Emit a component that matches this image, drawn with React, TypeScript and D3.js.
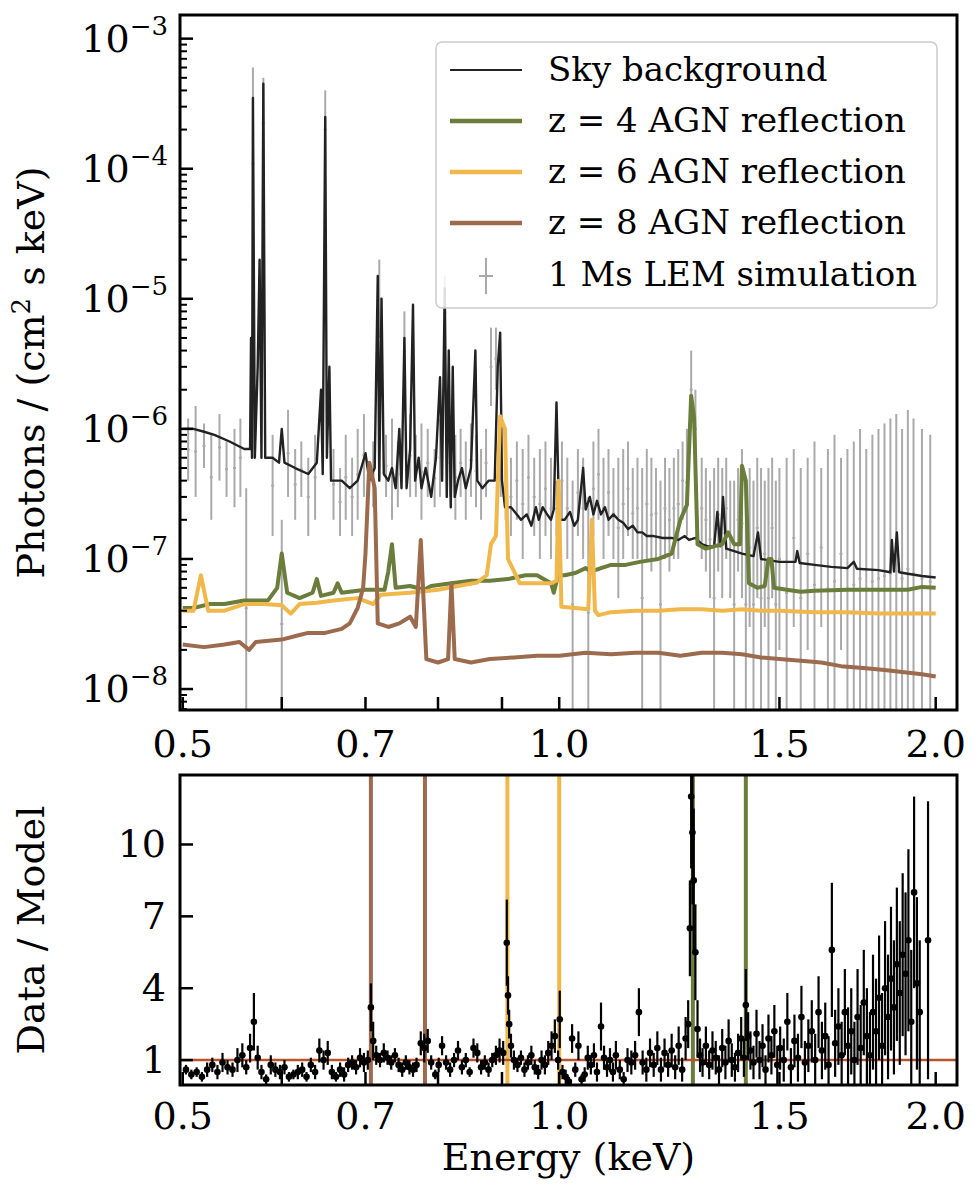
import React from 'react';
import * as d3 from 'd3';

// ---- data ----
const skyBackground: [number, number][] = [
  [0.500, 1.0e-6], [0.510, 1.0e-6], [0.520, 9.5e-7], [0.530, 9e-7], [0.545, 8e-7], [0.560, 7e-7],
  [0.566, 7e-7], [0.567, 5e-6], [0.568, 6e-7], [0.569, 3.5e-4], [0.571, 6e-7], [0.574, 3e-6],
  [0.576, 2e-5], [0.578, 6e-7], [0.580, 4.5e-4], [0.582, 6e-7], [0.590, 6e-7], [0.597, 5.5e-7],
  [0.600, 1.0e-6], [0.603, 5.5e-7], [0.615, 5e-7], [0.630, 4.5e-7], [0.640, 5.5e-7], [0.645, 2e-6],
  [0.647, 4.5e-7], [0.650, 2.5e-4], [0.652, 6e-7], [0.655, 3e-6], [0.657, 4e-7], [0.670, 4e-7],
  [0.680, 3.5e-7], [0.690, 4e-7], [0.700, 6.5e-7], [0.705, 4e-7], [0.712, 5e-7], [0.716, 1.5e-5],
  [0.718, 4e-7], [0.721, 1e-5], [0.724, 4.5e-7], [0.730, 4e-7], [0.735, 5e-7], [0.740, 3.5e-7],
  [0.745, 1e-6], [0.748, 3.5e-7], [0.752, 5e-6], [0.755, 3.5e-7], [0.760, 7e-7], [0.764, 9e-6],
  [0.767, 4e-7], [0.772, 6e-7], [0.776, 3.5e-7], [0.782, 5e-7], [0.790, 3e-7], [0.797, 6e-7],
  [0.803, 2.5e-6], [0.806, 4e-7], [0.810, 1.2e-5], [0.813, 3e-7], [0.816, 4e-6], [0.819, 2.5e-7],
  [0.822, 3e-6], [0.825, 3e-7], [0.830, 4e-7], [0.836, 5e-7], [0.842, 3.5e-7], [0.850, 5e-7],
  [0.857, 4e-6], [0.860, 4e-7], [0.868, 3.5e-7], [0.878, 4e-7], [0.888, 4e-7], [0.893, 3e-6],
  [0.897, 5.5e-6], [0.900, 4e-7], [0.905, 2.5e-7], [0.915, 2.5e-7], [0.925, 2.2e-7], [0.932, 2e-7],
  [0.942, 2.2e-7], [0.950, 1.8e-7], [0.958, 2.5e-7], [0.963, 2e-7], [0.970, 2.5e-7], [0.978, 2.2e-7],
  [0.985, 2e-7], [0.990, 2.4e-7], [0.995, 1.6e-6], [1.000, 2e-7], [1.010, 2e-7], [1.020, 2.3e-7],
  [1.028, 1.8e-7], [1.035, 2e-7], [1.045, 5e-7], [1.050, 2.4e-7], [1.058, 3e-7], [1.065, 2.2e-7],
  [1.072, 2.8e-7], [1.080, 2.2e-7], [1.088, 2.5e-7], [1.095, 2e-7], [1.105, 2.2e-7], [1.115, 2e-7],
  [1.125, 1.9e-7], [1.135, 1.7e-7], [1.145, 1.8e-7], [1.155, 1.6e-7], [1.165, 1.6e-7], [1.175, 1.5e-7],
  [1.190, 1.5e-7], [1.210, 1.45e-7], [1.230, 1.45e-7], [1.245, 1.4e-7], [1.260, 1.5e-7], [1.270, 1.4e-7],
  [1.285, 1.45e-7], [1.300, 1.3e-7], [1.315, 1.25e-7], [1.330, 1.25e-7], [1.338, 2.3e-7], [1.345, 1.25e-7],
  [1.352, 3e-7], [1.360, 1.2e-7], [1.380, 1.15e-7], [1.400, 1.1e-7], [1.430, 1.05e-7], [1.442, 1.6e-7],
  [1.450, 1.0e-7], [1.500, 9.5e-8], [1.545, 9.5e-8], [1.550, 1.15e-7], [1.557, 9.3e-8], [1.600, 9e-8],
  [1.650, 8.7e-8], [1.700, 8.5e-8], [1.720, 9.5e-8], [1.730, 8.4e-8], [1.800, 8.2e-8], [1.840, 7.9e-8],
  [1.845, 1.4e-7], [1.852, 8e-8], [1.862, 1.6e-7], [1.870, 7.9e-8], [1.900, 7.7e-8], [1.950, 7.4e-8],
  [2.000, 7.2e-8],
];

const agnZ4: [number, number][] = [
  [0.500, 4.2e-8], [0.510, 4.2e-8], [0.525, 4.5e-8], [0.540, 4.5e-8], [0.560, 4.8e-8], [0.585, 4.8e-8],
  [0.595, 6e-8], [0.600, 1.1e-7], [0.606, 5.5e-8], [0.620, 5e-8], [0.635, 5.5e-8], [0.640, 7e-8],
  [0.645, 5.2e-8], [0.660, 5.5e-8], [0.665, 6.5e-8], [0.670, 5.5e-8], [0.700, 5.8e-8], [0.725, 5.8e-8],
  [0.730, 8e-8], [0.735, 1.3e-7], [0.740, 6e-8], [0.760, 6.2e-8], [0.780, 5.8e-8], [0.790, 6.2e-8],
  [0.820, 6.5e-8], [0.850, 6.8e-8], [0.880, 6.8e-8], [0.910, 7e-8], [0.940, 7.5e-8], [0.960, 7.5e-8],
  [0.985, 6.5e-8], [0.990, 5.5e-8], [0.998, 7.5e-8], [1.010, 7.5e-8], [1.030, 7.8e-8], [1.050, 8.5e-8],
  [1.060, 8e-8], [1.080, 8.5e-8], [1.100, 9e-8], [1.130, 9e-8], [1.160, 9.5e-8], [1.200, 1.0e-7],
  [1.230, 1.1e-7], [1.250, 2e-7], [1.265, 2.6e-7], [1.275, 1.8e-6], [1.282, 1.2e-6], [1.290, 1.3e-7],
  [1.310, 1.2e-7], [1.330, 1.25e-7], [1.350, 1.3e-7], [1.365, 1.6e-7], [1.380, 1.3e-7], [1.395, 1.3e-7],
  [1.400, 5.2e-7], [1.410, 4e-7], [1.418, 6.5e-8], [1.440, 6e-8], [1.460, 6.2e-8], [1.470, 1.0e-7],
  [1.478, 1.0e-7], [1.485, 6e-8], [1.520, 5.8e-8], [1.560, 5.6e-8], [1.600, 5.7e-8], [1.700, 5.8e-8],
  [1.800, 5.8e-8], [1.900, 5.8e-8], [1.950, 6.1e-8], [2.000, 6e-8],
];

const agnZ6: [number, number][] = [
  [0.500, 4e-8], [0.510, 4e-8], [0.517, 7.5e-8], [0.524, 4e-8], [0.540, 4e-8], [0.560, 4.5e-8],
  [0.580, 4.5e-8], [0.600, 4.4e-8], [0.610, 3.8e-8], [0.620, 4.5e-8], [0.640, 4.6e-8], [0.660, 4.8e-8],
  [0.690, 5e-8], [0.710, 4.5e-8], [0.720, 5.3e-8], [0.760, 5.5e-8], [0.800, 5.8e-8], [0.830, 6.2e-8],
  [0.860, 6.6e-8], [0.875, 7.5e-8], [0.882, 1.3e-7], [0.890, 1.5e-7], [0.897, 1.25e-6], [0.905, 1.0e-6],
  [0.910, 1.0e-7], [0.930, 6.5e-8], [0.960, 6.5e-8], [0.985, 6.5e-8], [0.995, 6.8e-8], [0.999, 4e-7],
  [1.004, 4.3e-8], [1.030, 4.2e-8], [1.055, 4.1e-8], [1.062, 2.0e-7], [1.068, 4e-8], [1.075, 3.7e-8],
  [1.100, 3.9e-8], [1.150, 4e-8], [1.200, 4e-8], [1.250, 4.1e-8], [1.300, 4.1e-8], [1.350, 4e-8],
  [1.400, 4.1e-8], [1.450, 4e-8], [1.500, 4e-8], [1.600, 3.9e-8], [1.700, 3.9e-8], [1.800, 3.8e-8],
  [1.900, 3.8e-8], [2.000, 3.8e-8],
];

const agnZ8: [number, number][] = [
  [0.500, 2.2e-8], [0.520, 2.1e-8], [0.540, 2.2e-8], [0.555, 2.3e-8], [0.565, 2.0e-8], [0.572, 2.3e-8],
  [0.600, 2.4e-8], [0.620, 2.6e-8], [0.630, 2.7e-8], [0.650, 2.7e-8], [0.670, 2.9e-8], [0.680, 3.2e-8],
  [0.690, 4.2e-8], [0.697, 6e-8], [0.700, 1.1e-7], [0.705, 5.5e-7], [0.712, 3.5e-7], [0.716, 3.2e-8],
  [0.730, 3.0e-8], [0.745, 3.2e-8], [0.760, 3.6e-8], [0.768, 3.0e-8], [0.775, 1.4e-7], [0.783, 1.7e-8],
  [0.800, 1.6e-8], [0.815, 1.7e-8], [0.820, 6.5e-8], [0.825, 1.7e-8], [0.850, 1.6e-8], [0.880, 1.7e-8],
  [0.920, 1.75e-8], [0.960, 1.8e-8], [1.000, 1.8e-8], [1.050, 1.9e-8], [1.100, 1.85e-8], [1.150, 1.9e-8],
  [1.200, 1.9e-8], [1.250, 1.8e-8], [1.300, 1.9e-8], [1.350, 1.9e-8], [1.400, 1.85e-8], [1.450, 1.75e-8],
  [1.500, 1.7e-8], [1.560, 1.65e-8], [1.620, 1.6e-8], [1.680, 1.5e-8], [1.750, 1.45e-8], [1.820, 1.4e-8],
  [1.880, 1.35e-8], [1.950, 1.3e-8], [2.000, 1.25e-8],
];

// LEM simulation error bars: [energy, low, high]
const lemSim: [number, number, number][] = [
  [0.505, 4e-7, 1.2e-6], [0.512, 3e-7, 1.5e-6], [0.520, 5e-7, 1.1e-6], [0.527, 2e-7, 9e-7], [0.535, 4e-7, 1.3e-6],
  [0.542, 3e-7, 8e-7], [0.550, 2.5e-7, 1e-6], [0.556, 3e-7, 1.2e-6], [0.562, 5e-9, 3.5e-7], [0.569, 2e-5, 6e-4],
  [0.580, 1e-4, 5e-4], [0.590, 1.5e-7, 9e-7], [0.600, 5e-9, 2e-7], [0.607, 3e-7, 1.4e-6], [0.615, 2e-7, 7e-7],
  [0.622, 3e-7, 8e-7], [0.630, 1.5e-7, 6e-7], [0.638, 2e-7, 9e-7], [0.650, 1e-4, 4e-4], [0.660, 2e-7, 7e-7],
  [0.668, 1.5e-7, 5e-7], [0.675, 2e-7, 9e-7], [0.683, 1.5e-7, 6e-7], [0.690, 2e-7, 1e-6], [0.698, 3e-7, 1.3e-6],
  [0.710, 2.5e-7, 8e-7], [0.718, 5e-6, 2e-5], [0.727, 3e-7, 9e-7], [0.735, 2e-7, 1.2e-6], [0.743, 2.5e-7, 8e-7],
  [0.752, 2e-6, 8e-6], [0.760, 3e-7, 1.3e-6], [0.768, 3e-7, 9e-7], [0.776, 2e-7, 1.1e-6], [0.785, 3e-7, 1e-6],
  [0.795, 2.5e-7, 7e-7], [0.803, 3e-7, 1.2e-6], [0.810, 4e-6, 1.5e-5], [0.818, 3e-7, 1e-6], [0.826, 2e-7, 9e-7],
  [0.834, 3e-7, 1e-6], [0.842, 2e-7, 8e-7], [0.850, 3e-7, 1.1e-6], [0.858, 2.5e-7, 9e-7], [0.866, 2e-7, 7e-7],
  [0.874, 3e-7, 1e-6], [0.882, 1.5e-6, 6e-6], [0.890, 2e-6, 6e-6], [0.898, 3e-7, 1e-6], [0.906, 2e-7, 8e-7],
  [0.915, 1.5e-7, 6e-7], [0.925, 2e-7, 8e-7], [0.935, 1e-7, 7e-7], [0.945, 2e-7, 9e-7], [0.955, 1.5e-7, 6e-7],
  [0.965, 1e-7, 7e-7], [0.975, 1.5e-7, 8e-7], [0.985, 1e-7, 6e-7], [0.995, 1.5e-7, 4e-7], [1.005, 2e-7, 8e-7],
  [1.015, 1e-7, 6e-7], [1.025, 5e-9, 4e-7], [1.035, 1.5e-7, 7e-7], [1.045, 1e-7, 6e-7], [1.055, 5e-9, 3e-7],
  [1.065, 1.5e-7, 8e-7], [1.075, 2e-7, 1e-6], [1.085, 1e-7, 6e-7], [1.095, 1.5e-7, 7e-7], [1.105, 1e-7, 5e-7],
  [1.115, 5e-8, 6e-7], [1.125, 1e-7, 7e-7], [1.135, 1.5e-7, 8e-7], [1.145, 1e-7, 5e-7], [1.155, 1e-7, 6e-7],
  [1.165, 5e-9, 5e-7], [1.175, 1e-7, 7e-7], [1.185, 8e-8, 6e-7], [1.195, 1e-7, 5e-7], [1.205, 5e-9, 4e-7],
  [1.215, 1e-7, 6e-7], [1.225, 8e-8, 5e-7], [1.235, 1e-7, 6e-7], [1.245, 1e-7, 7e-7], [1.255, 2e-7, 8e-7],
  [1.265, 1.5e-7, 1e-6], [1.275, 1e-6, 4e-6], [1.285, 5e-7, 2e-6], [1.300, 1e-7, 6e-7], [1.310, 8e-8, 5e-7],
  [1.320, 5e-8, 4e-7], [1.330, 5e-9, 5e-7], [1.340, 8e-8, 6e-7], [1.350, 5e-8, 5e-7], [1.360, 1e-7, 6e-7],
  [1.370, 5e-8, 4e-7], [1.380, 5e-9, 4e-7], [1.390, 8e-8, 5e-7], [1.400, 5e-8, 7e-7], [1.410, 5e-9, 4e-7],
  [1.420, 3e-8, 5e-7], [1.430, 5e-9, 4e-7], [1.440, 5e-8, 6e-7], [1.450, 5e-9, 5e-7], [1.460, 3e-8, 4e-7],
  [1.470, 5e-9, 5e-7], [1.480, 5e-8, 6e-7], [1.490, 5e-9, 4e-7], [1.500, 2e-8, 5e-7], [1.520, 5e-9, 6e-7],
  [1.540, 3e-8, 7e-7], [1.560, 5e-9, 5e-7], [1.580, 2e-8, 6e-7], [1.600, 5e-9, 8e-7], [1.620, 3e-8, 5e-7],
  [1.640, 5e-9, 7e-7], [1.660, 5e-9, 9e-7], [1.680, 2e-8, 6e-7], [1.700, 5e-9, 7e-7], [1.720, 5e-9, 8e-7],
  [1.740, 5e-9, 1e-6], [1.760, 5e-9, 7e-7], [1.780, 5e-9, 9e-7], [1.800, 5e-9, 1e-6], [1.820, 5e-9, 1.1e-6],
  [1.840, 5e-9, 1.2e-6], [1.860, 5e-9, 1.3e-6], [1.880, 5e-9, 1e-6], [1.900, 5e-9, 1.4e-6], [1.920, 5e-9, 1.2e-6],
  [1.950, 5e-9, 1e-6], [1.980, 5e-9, 9e-7],
];

// Data/Model ratio: [energy, value, error]
const ratio: [number, number, number][] = [
  [0.503, 0.6, 0.2], [0.508, 0.4, 0.2], [0.513, 0.5, 0.2], [0.518, 0.3, 0.2], [0.523, 0.6, 0.3], [0.528, 0.8, 0.3],
  [0.533, 0.5, 0.3], [0.538, 0.9, 0.4], [0.543, 0.7, 0.3], [0.548, 0.6, 0.3], [0.553, 1.0, 0.5], [0.558, 1.2, 0.5],
  [0.562, 0.7, 0.3], [0.566, 1.5, 0.6], [0.570, 2.6, 1.2], [0.574, 1.1, 0.5], [0.578, 0.5, 0.3], [0.583, 0.2, 0.2],
  [0.588, 0.8, 0.4], [0.593, 0.6, 0.3], [0.598, 0.5, 0.3], [0.603, 0.7, 0.3], [0.608, 0.3, 0.2], [0.613, 0.4, 0.2],
  [0.618, 0.5, 0.3], [0.623, 0.6, 0.3], [0.628, 0.3, 0.2], [0.633, 0.8, 0.3], [0.638, 0.5, 0.3], [0.643, 1.4, 0.5],
  [0.648, 1.0, 0.4], [0.653, 1.3, 0.5], [0.658, 0.5, 0.3], [0.663, 0.3, 0.2], [0.668, 0.6, 0.3], [0.673, 0.4, 0.3],
  [0.678, 0.8, 0.3], [0.683, 0.9, 0.3], [0.688, 0.7, 0.3], [0.693, 1.1, 0.4], [0.698, 0.9, 0.4], [0.703, 1.0, 0.4],
  [0.707, 3.2, 1.0], [0.710, 1.8, 0.8], [0.714, 1.2, 0.4], [0.719, 1.0, 0.3], [0.724, 1.3, 0.4], [0.729, 1.1, 0.3],
  [0.734, 0.9, 0.3], [0.739, 1.2, 0.3], [0.744, 0.8, 0.3], [0.749, 0.6, 0.3], [0.754, 0.9, 0.3], [0.759, 0.7, 0.3],
  [0.764, 0.6, 0.3], [0.769, 0.8, 0.3], [0.775, 1.7, 0.5], [0.780, 1.5, 0.6], [0.785, 1.8, 0.5], [0.790, 0.9, 0.3],
  [0.796, 0.4, 0.2], [0.801, 0.8, 0.3], [0.806, 1.6, 0.4], [0.812, 0.9, 0.3], [0.818, 0.6, 0.3], [0.824, 1.0, 0.3],
  [0.830, 1.4, 0.4], [0.836, 0.7, 0.3], [0.842, 1.0, 0.3], [0.848, 0.5, 0.2], [0.854, 1.5, 0.4], [0.860, 1.3, 0.4],
  [0.866, 0.7, 0.3], [0.872, 0.9, 0.3], [0.878, 0.6, 0.3], [0.884, 1.0, 0.3], [0.890, 1.2, 0.4], [0.896, 1.4, 0.5],
  [0.902, 1.3, 0.5], [0.908, 5.9, 1.8], [0.910, 3.7, 0.8], [0.912, 2.5, 0.6], [0.915, 1.6, 0.5], [0.920, 1.0, 0.4],
  [0.926, 0.8, 0.3], [0.932, 1.1, 0.3], [0.938, 0.6, 0.3], [0.944, 0.9, 0.3], [0.950, 1.2, 0.4], [0.956, 0.7, 0.3],
  [0.962, 0.5, 0.3], [0.968, 1.0, 0.4], [0.974, 0.8, 0.4], [0.980, 1.3, 0.5], [0.986, 1.6, 0.6], [0.992, 2.0, 0.7],
  [0.998, 1.0, 0.4], [1.001, 2.7, 1.2], [1.006, 0.5, 0.3], [1.012, 0.3, 0.3], [1.018, 0.1, 0.2], [1.024, 1.9, 0.6],
  [1.030, 0.6, 0.3], [1.036, 1.6, 0.6], [1.042, 0.2, 0.2], [1.048, 0.4, 0.3], [1.054, 1.1, 0.5], [1.060, 0.8, 0.4],
  [1.066, 1.2, 0.5], [1.072, 0.5, 0.4], [1.080, 2.4, 1.0], [1.086, 1.1, 0.5], [1.092, 0.7, 0.4], [1.098, 1.0, 0.5],
  [1.104, 0.5, 0.4], [1.110, 1.2, 0.6], [1.118, 0.6, 0.4], [1.126, 0.2, 0.3], [1.134, 1.0, 0.5], [1.142, 0.9, 0.5],
  [1.150, 1.2, 0.6], [1.158, 3.0, 1.0], [1.166, 0.9, 0.5], [1.174, 0.6, 0.5], [1.182, 1.3, 0.6], [1.190, 0.8, 0.5],
  [1.198, 1.5, 0.7], [1.206, 0.6, 0.5], [1.214, 1.3, 0.6], [1.222, 0.8, 0.5], [1.230, 1.4, 0.7], [1.238, 0.7, 0.5],
  [1.246, 1.6, 0.8], [1.254, 0.6, 0.5], [1.262, 1.9, 0.9], [1.268, 2.5, 1.0], [1.272, 6.5, 2.0], [1.275, 12.0, 3.0],
  [1.278, 10.5, 3.0], [1.281, 8.5, 3.0], [1.285, 5.5, 2.0], [1.290, 2.3, 1.2], [1.296, 1.2, 0.7], [1.302, 0.9, 0.6],
  [1.310, 1.6, 0.8], [1.318, 0.8, 0.6], [1.326, 1.4, 0.8], [1.334, 1.1, 0.7], [1.342, 0.6, 0.6], [1.350, 1.5, 0.8],
  [1.358, 0.9, 0.7], [1.366, 1.8, 0.9], [1.374, 1.0, 0.7], [1.382, 0.7, 0.6], [1.390, 1.3, 0.8], [1.398, 1.9, 0.9],
  [1.405, 1.1, 0.8], [1.410, 3.3, 1.5], [1.416, 2.0, 1.0], [1.422, 1.4, 0.8], [1.430, 0.9, 0.7], [1.438, 2.1, 1.0],
  [1.446, 1.0, 0.8], [1.454, 1.6, 0.9], [1.462, 0.6, 0.6], [1.470, 1.9, 1.0], [1.478, 1.2, 0.8], [1.486, 2.2, 1.1],
  [1.494, 0.8, 0.8], [1.502, 1.5, 0.9], [1.512, 1.0, 0.9], [1.522, 2.6, 1.2], [1.532, 0.7, 0.8], [1.542, 1.8, 1.1],
  [1.552, 1.1, 1.0], [1.562, 2.8, 1.3], [1.572, 0.9, 0.9], [1.582, 1.6, 1.1], [1.592, 2.2, 1.3], [1.602, 1.0, 1.1],
  [1.612, 3.0, 1.5], [1.622, 1.4, 1.2], [1.632, 2.0, 1.4], [1.642, 0.8, 1.2], [1.652, 5.6, 2.8], [1.662, 1.7, 1.4],
  [1.672, 2.4, 1.6], [1.682, 1.2, 1.4], [1.692, 3.0, 1.8], [1.702, 1.6, 1.6], [1.712, 2.2, 1.8], [1.722, 1.0, 1.6],
  [1.732, 2.8, 2.0], [1.742, 1.5, 1.8], [1.752, 3.4, 2.2], [1.762, 2.0, 2.0], [1.772, 1.2, 1.8], [1.782, 3.0, 2.4],
  [1.792, 2.2, 2.2], [1.802, 3.6, 2.6], [1.812, 1.6, 2.2], [1.822, 4.0, 2.8], [1.832, 2.8, 2.6], [1.842, 4.4, 3.0],
  [1.852, 3.2, 2.8], [1.862, 5.0, 3.2], [1.872, 3.8, 3.0], [1.882, 5.4, 3.4], [1.892, 4.6, 3.4], [1.902, 6.0, 3.8],
  [1.912, 2.6, 3.0], [1.922, 8.0, 4.0], [1.932, 4.2, 3.6], [1.942, 3.0, 3.0], [1.972, 6.0, 5.8],
];

const ratioLines: [number, string][] = [
  [0.707, '#9c6b4e'], [0.781, '#9c6b4e'], [0.909, '#f0b84a'], [1.0, '#f0b84a'], [1.279, '#6b7d3a'], [1.41, '#6b7d3a'],
];

const xTicks = [0.5, 0.6, 0.7, 0.8, 0.9, 1.0, 1.5, 2.0];
const xLabels = [0.5, 0.7, 1.0, 1.5, 2.0];
const yTicksTop = [-8, -7, -6, -5, -4, -3];
const yTicksBottom = [1, 4, 7, 10];

const legendItems = [
  { label: 'Sky background', color: '#222', width: 2 },
  { label: 'z = 4 AGN reflection', color: '#6b7d3a', width: 4.5 },
  { label: 'z = 6 AGN reflection', color: '#f0b84a', width: 4.5 },
  { label: 'z = 8 AGN reflection', color: '#9c6b4e', width: 4.5 },
];

const FONT = '"DejaVu Serif", serif';
const TICK_FS = 38;
const LABEL_FS = 38;
const LEG_FS = 34;

export default function App() {
  const L = 180, R = 957;
  const topT = 15, topB = 710;
  const botT = 775, botB = 1085;

  const x = d3.scaleLog().domain([0.4975, 2.08]).range([L, R]);
  const yTop = d3.scaleLog().domain([6.9e-9, 1.52e-3]).range([topB, topT]);
  const yBot = d3.scaleLinear().domain([-0.04, 12.9]).range([botB, botT]);

  const lineTop = d3.line<[number, number]>().x(d => x(d[0])).y(d => yTop(d[1]));

  const minorY: number[] = [];
  for (let e = -9; e <= -4; e++) for (let m = 2; m <= 9; m++) {
    const v = m * Math.pow(10, e);
    if (v > 6.9e-9 && v < 1.52e-3) minorY.push(v);
  }

  return (
    <div style={{ position: 'absolute', left: 0, top: 0 }}>
      <svg width={980} height={1200} style={{ display: 'block', background: '#fff' }} fontFamily={FONT}>
        <defs>
          <clipPath id="clipTop"><rect x={L} y={topT} width={R - L} height={topB - topT} /></clipPath>
          <clipPath id="clipBot"><rect x={L} y={botT} width={R - L} height={botB - botT} /></clipPath>
        </defs>

        {/* top panel */}
        <g clipPath="url(#clipTop)">
          {lemSim.map((d, i) => (
            <g key={i} stroke="#aaa" strokeWidth={2}>
              <line x1={x(d[0])} x2={x(d[0])} y1={yTop(d[1])} y2={yTop(d[2])} />
              <line x1={x(d[0]) - 1.5} x2={x(d[0]) + 1.5} y1={yTop(Math.sqrt(d[1] * d[2]))} y2={yTop(Math.sqrt(d[1] * d[2]))} />
            </g>
          ))}
          <path d={lineTop(skyBackground) || ''} fill="none" stroke="#222" strokeWidth={2.4} strokeLinejoin="round" />
          <path d={lineTop(agnZ4) || ''} fill="none" stroke="#6b7d3a" strokeWidth={4} strokeLinejoin="round" />
          <path d={lineTop(agnZ6) || ''} fill="none" stroke="#f0b84a" strokeWidth={4} strokeLinejoin="round" />
          <path d={lineTop(agnZ8) || ''} fill="none" stroke="#9c6b4e" strokeWidth={4} strokeLinejoin="round" />
        </g>
        <rect x={L} y={topT} width={R - L} height={topB - topT} fill="none" stroke="#000" strokeWidth={3} />
        {minorY.map(v => (
          <line key={v} x1={L} x2={L + 7} y1={yTop(v)} y2={yTop(v)} stroke="#000" strokeWidth={2} />
        ))}
        {yTicksTop.map(e => (
          <g key={e}>
            <line x1={L} x2={L + 13} y1={yTop(Math.pow(10, e))} y2={yTop(Math.pow(10, e))} stroke="#000" strokeWidth={2.5} />
            <text x={L - 12} y={yTop(Math.pow(10, e)) + 13} textAnchor="end" fontSize={TICK_FS}>
              10<tspan dy={-17} fontSize={26}>{'\u2212' + Math.abs(e)}</tspan>
            </text>
          </g>
        ))}
        {xTicks.map(t => (
          <line key={t} x1={x(t)} x2={x(t)} y1={topB} y2={topB - 13} stroke="#000" strokeWidth={2.5} />
        ))}
        {xLabels.map(t => (
          <text key={t} x={x(t)} y={topB + 47} textAnchor="middle" fontSize={TICK_FS}>{t.toFixed(1)}</text>
        ))}
        <text transform={`translate(44,${(topT + topB) / 2 + 10}) rotate(-90)`} textAnchor="middle" fontSize={LABEL_FS}>
          Photons / (cm<tspan dy={-14} fontSize={26}>2</tspan><tspan dy={14}> s keV)</tspan>
        </text>

        {/* legend */}
        <rect x={436} y={42} width={501} height={266} rx={6} fill="#fff" fillOpacity={0.85} stroke="#ccc" strokeWidth={1.5} />
        {legendItems.map((it, i) => (
          <g key={it.label}>
            <line x1={450} x2={522} y1={70 + i * 51} y2={70 + i * 51} stroke={it.color} strokeWidth={it.width} />
            <text x={548} y={81 + i * 51} fontSize={LEG_FS}>{it.label}</text>
          </g>
        ))}
        <line x1={486} x2={486} y1={258} y2={294} stroke="#aaa" strokeWidth={2} />
        <line x1={479} x2={493} y1={276} y2={276} stroke="#aaa" strokeWidth={2} />
        <text x={548} y={286} fontSize={LEG_FS}>1 Ms LEM simulation</text>

        {/* bottom panel */}
        <g clipPath="url(#clipBot)">
          {ratioLines.map(([e, c], i) => (
            <line key={i} x1={x(e)} x2={x(e)} y1={botT} y2={botB} stroke={c} strokeWidth={4} />
          ))}
          <line x1={L} x2={R} y1={yBot(1)} y2={yBot(1)} stroke="#b8542c" strokeWidth={2.5} />
          {ratio.map((d, i) => (
            <g key={i}>
              <line x1={x(d[0])} x2={x(d[0])} y1={yBot(d[1] - d[2])} y2={yBot(d[1] + d[2])} stroke="#000" strokeWidth={2.2} />
              <circle cx={x(d[0])} cy={yBot(d[1])} r={3.3} fill="#000" />
            </g>
          ))}
        </g>
        <rect x={L} y={botT} width={R - L} height={botB - botT} fill="none" stroke="#000" strokeWidth={3} />
        {yTicksBottom.map(t => (
          <g key={t}>
            <line x1={L} x2={L + 13} y1={yBot(t)} y2={yBot(t)} stroke="#000" strokeWidth={2.5} />
            <text x={L - 14} y={yBot(t) + 13} textAnchor="end" fontSize={TICK_FS}>{t}</text>
          </g>
        ))}
        {xTicks.map(t => (
          <line key={t} x1={x(t)} x2={x(t)} y1={botB} y2={botB - 13} stroke="#000" strokeWidth={2.5} />
        ))}
        {xLabels.map(t => (
          <text key={t} x={x(t)} y={botB + 44} textAnchor="middle" fontSize={TICK_FS}>{t.toFixed(1)}</text>
        ))}
        <text x={(L + R) / 2} y={1170} textAnchor="middle" fontSize={LABEL_FS}>Energy (keV)</text>
        <text transform={`translate(44,${(botT + botB) / 2}) rotate(-90)`} textAnchor="middle" fontSize={LABEL_FS}>Data / Model</text>
      </svg>
    </div>
  );
}
